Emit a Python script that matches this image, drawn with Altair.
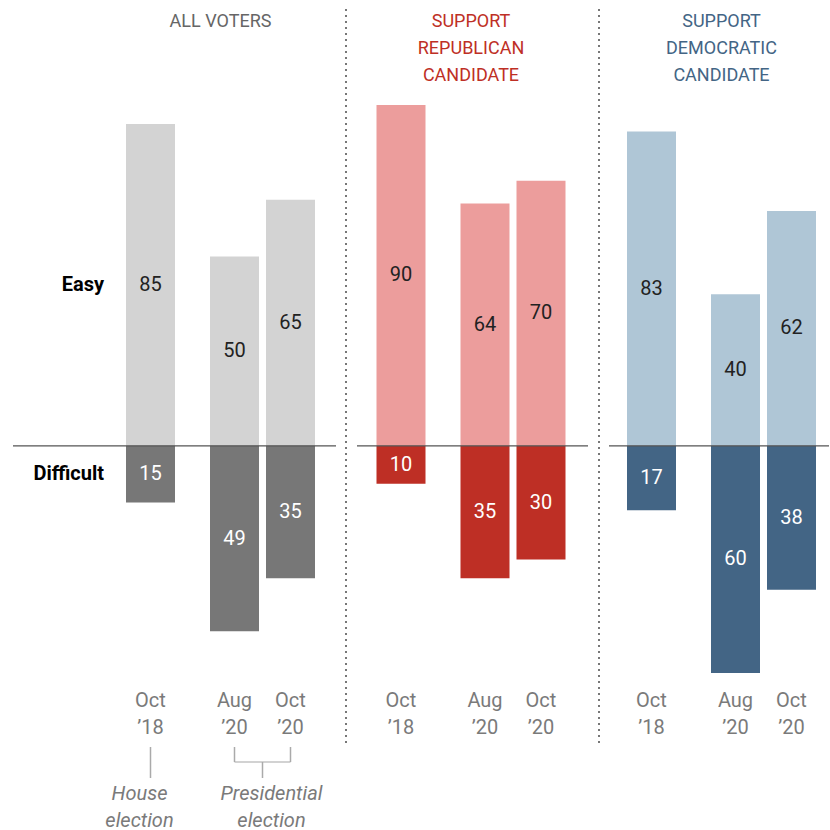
import altair as alt
import pandas as pd

# ---- data ----
panel_titles = ["ALL VOTERS",
                "SUPPORT\nREPUBLICAN\nCANDIDATE",
                "SUPPORT\nDEMOCRATIC\nCANDIDATE"]
periods = ["Oct\n\u201918", "Aug\n\u201920", "Oct\n\u201920"]
period_election = ["House", "Presidential", "Presidential"]
period_month = ["Oct", "Aug", "Oct"]
easy_all = [85, 50, 65]
diff_all = [15, 49, 35]
easy_rep = [90, 64, 70]
diff_rep = [10, 35, 30]
easy_dem = [83, 40, 62]
diff_dem = [17, 60, 38]
kinds = ["Easy", "Difficult"]
elections_note = ["House\nelection", "Presidential\nelection"]

# ---- styles ----
light_colors = ["#d3d3d3", "#ec9d9c", "#afc6d6"]
dark_colors = ["#777777", "#be2f25", "#436585"]
title_colors = ["#666666", "#be2f25", "#436585"]
FONT = "Roboto"
W, H = 245, 568
GRAY = "#7a7a7a"
LINE = "#aaaaaa"

easy_sets = [easy_all, easy_rep, easy_dem]
diff_sets = [diff_all, diff_rep, diff_dem]

x_scale = alt.Scale(domain=["House", "Presidential"], paddingInner=0.25, paddingOuter=0)
xs = alt.X("election:N", scale=x_scale, axis=None)
xo = alt.XOffset("month:N", scale=alt.Scale(domain=["Aug", "Oct"], paddingInner=0.125, paddingOuter=0))
ysc = alt.Scale(domain=[-60, 90], nice=False, zero=True)

baselines = [(-57, 266), (36.5, 267.5), (38, 258)]
separators = [276, 278.5, None]


def make_panel(k):
    rows = []
    for i, per in enumerate(periods):
        rows.append(dict(period=per, election=period_election[i], month=period_month[i], kind="Easy",
                         value=easy_sets[k][i], label=easy_sets[k][i], mid=easy_sets[k][i] / 2))
        rows.append(dict(period=per, election=period_election[i], month=period_month[i], kind="Difficult",
                         value=-diff_sets[k][i], label=diff_sets[k][i], mid=-diff_sets[k][i] / 2))
    df = pd.DataFrame(rows)
    base = alt.Chart(df)
    bars = base.mark_bar().encode(
        x=xs, xOffset=xo,
        y=alt.Y("value:Q", scale=ysc, axis=None),
        color=alt.condition(alt.datum.kind == "Easy", alt.value(light_colors[k]), alt.value(dark_colors[k])),
    )
    labels = base.mark_text(font=FONT, fontSize=20, baseline="middle").encode(
        x=xs, xOffset=xo,
        y=alt.Y("mid:Q", scale=ysc, axis=None),
        text=alt.Text("label:Q"),
        color=alt.condition(alt.datum.kind == "Easy", alt.value("#222222"), alt.value("#ffffff")),
    )
    one = pd.DataFrame({"zero": [0], "title": [panel_titles[k]]})
    zero = alt.Chart(one).mark_rule(color="#555555", strokeWidth=1.2).encode(
        y=alt.Y("zero:Q", scale=ysc, axis=None),
        x=alt.value(baselines[k][0]), x2=alt.value(baselines[k][1]),
    )
    title = alt.Chart(one).mark_text(font=FONT, fontSize=18, color=title_colors[k], baseline="top",
                                     align="center", lineBreak="\n", lineHeight=27).encode(
        x=alt.value(W / 2 + 28), y=alt.value(-92), text="title:N")
    pdf = pd.DataFrame({"period": periods, "election": period_election, "month": period_month})
    plabels = alt.Chart(pdf).mark_text(font=FONT, fontSize=20, color=GRAY, baseline="top",
                                       lineBreak="\n", lineHeight=27).encode(
        x=xs, xOffset=xo, y=alt.value(H + 18), text="period:N")
    layers = [bars, zero, labels, plabels, title]
    if separators[k] is not None:
        sep = alt.Chart(one).mark_rule(
            color="#777777", strokeWidth=2, strokeDash=[2, 4]).encode(
            x=alt.value(separators[k]), y=alt.value(-96), y2=alt.value(H + 71))
        layers.append(sep)
    if k == 0:
        side = base.transform_filter(alt.datum.month == "Oct").transform_filter(
            alt.datum.election == "House").mark_text(
            font=FONT, fontSize=20, fontWeight="bold", align="right", baseline="middle", color="#000000").encode(
            x=alt.value(34), y=alt.Y("mid:Q", scale=ysc, axis=None), text="kind:N")
        layers.append(side)
        ndf = pd.DataFrame({"election": ["House", "Presidential"], "note": elections_note})
        nbase = alt.Chart(ndf)
        pres_stem = nbase.transform_filter(alt.datum.election == "Presidential").mark_rule(
            color=LINE, strokeWidth=1.5).encode(
            x=alt.X("election:N", scale=x_scale, axis=None),
            y=alt.value(H + 89), y2=alt.value(H + 105))
        house_stem = alt.Chart(pdf).transform_filter(alt.datum.election == "House").mark_rule(
            color=LINE, strokeWidth=1.5).encode(
            x=xs, xOffset=xo, y=alt.value(H + 74), y2=alt.value(H + 105))
        pres_arms = alt.Chart(pdf).transform_filter(alt.datum.election == "Presidential").mark_rule(
            color=LINE, strokeWidth=1.5).encode(
            x=xs, xOffset=xo, y=alt.value(H + 74), y2=alt.value(H + 89))
        bar_h = nbase.transform_filter(alt.datum.election == "Presidential").mark_tick(
            orient="horizontal", size=56, thickness=1.5, color=LINE).encode(
            x=alt.X("election:N", scale=x_scale, axis=None), y=alt.value(H + 89))
        house_note = nbase.transform_filter(alt.datum.election == "House").mark_text(
            font=FONT, fontSize=20, fontStyle="italic", color=GRAY, baseline="top", lineBreak="\n",
            lineHeight=27, dx=17).encode(
            x=alt.X("election:N", scale=x_scale, axis=None), y=alt.value(H + 111), text="note:N")
        pres_note = nbase.transform_filter(alt.datum.election == "Presidential").mark_text(
            font=FONT, fontSize=20, fontStyle="italic", color=GRAY, baseline="top", lineBreak="\n",
            lineHeight=27, dx=9).encode(
            x=alt.X("election:N", scale=x_scale, axis=None), y=alt.value(H + 111), text="note:N")
        layers += [pres_stem, house_stem, pres_arms, bar_h, house_note, pres_note]
    return alt.layer(*layers).properties(width=W, height=H)


chart = alt.hconcat(make_panel(0), make_panel(1), make_panel(2), spacing=5.5, bounds="flush").properties(
    padding={"left": 12, "top": 8, "right": 0, "bottom": 0}
).configure_view(stroke=None)

chart.save("out.html", embed_options={"renderer": "svg", "actions": False})
